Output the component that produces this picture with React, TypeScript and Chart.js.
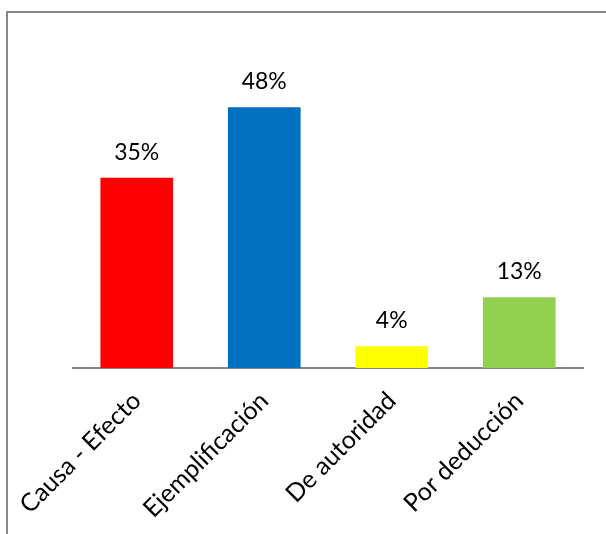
import React, { useEffect, useRef } from "react";
import { Chart, registerables } from "chart.js";

Chart.register(...registerables);

const categories = ["Causa - Efecto", "Ejemplificación", "De autoridad", "Por deducción"];
const values = [35, 48, 4, 13];
const colors = ["#FF0000", "#0070C0", "#FFFF00", "#92D050"];
const FONT = "Lato, 'Open Sans', sans-serif";

const valueLabels = {
  id: "valueLabels",
  afterDatasetsDraw(chart: any) {
    const ctx = chart.ctx;
    const meta = chart.getDatasetMeta(0);
    ctx.save();
    ctx.fillStyle = "#000000";
    ctx.font = `23px ${FONT}`;
    ctx.textAlign = "center";
    ctx.textBaseline = "alphabetic";
    meta.data.forEach((bar: any, i: number) => {
      ctx.fillText(`${values[i]}%`, bar.x, bar.y - 18);
    });
    ctx.restore();
  },
};

export default function App() {
  const ref = useRef<HTMLCanvasElement | null>(null);
  useEffect(() => {
    if (!ref.current) return;
    const chart = new Chart(ref.current, {
      type: "bar",
      data: {
        labels: categories,
        datasets: [
          {
            data: values,
            backgroundColor: colors,
            borderWidth: 0,
            categoryPercentage: 1,
            barPercentage: 0.57,
          },
        ],
      },
      options: {
        animation: false,
        responsive: false,
        devicePixelRatio: 1,
        layout: { padding: { left: 73, right: 23, top: 42, bottom: 0 } },
        plugins: { legend: { display: false }, tooltip: { enabled: false } },
        scales: {
          x: {
            grid: { display: false, drawTicks: false },
            border: { display: true, color: "#868686", width: 2 },
            ticks: {
              color: "#000000",
              font: { family: FONT, size: 25 },
              maxRotation: 45,
              minRotation: 45,
              padding: 18,
            },
            afterFit: (scale: any) => {
              scale.height = 166;
              scale.paddingLeft = 0;
              scale.paddingRight = 0;
            },
          },
          y: {
            display: false,
            min: 0,
            max: 60,
          },
        },
      },
      plugins: [valueLabels],
    });
    return () => chart.destroy();
  }, []);

  return (
    <div
      style={{
        position: "fixed",
        left: 0,
        top: 0,
        width: 606,
        height: 534,
        overflow: "hidden",
        background: "#ffffff",
      }}
    >
      <div
        style={{
          position: "absolute",
          left: 6,
          top: 11,
          width: 660,
          height: 600,
          border: "2px solid #898989",
          boxSizing: "border-box",
        }}
      />
      <canvas
        ref={ref}
        width={606}
        height={534}
        style={{ position: "absolute", left: 0, top: 0, width: 606, height: 534 }}
      />
    </div>
  );
}
